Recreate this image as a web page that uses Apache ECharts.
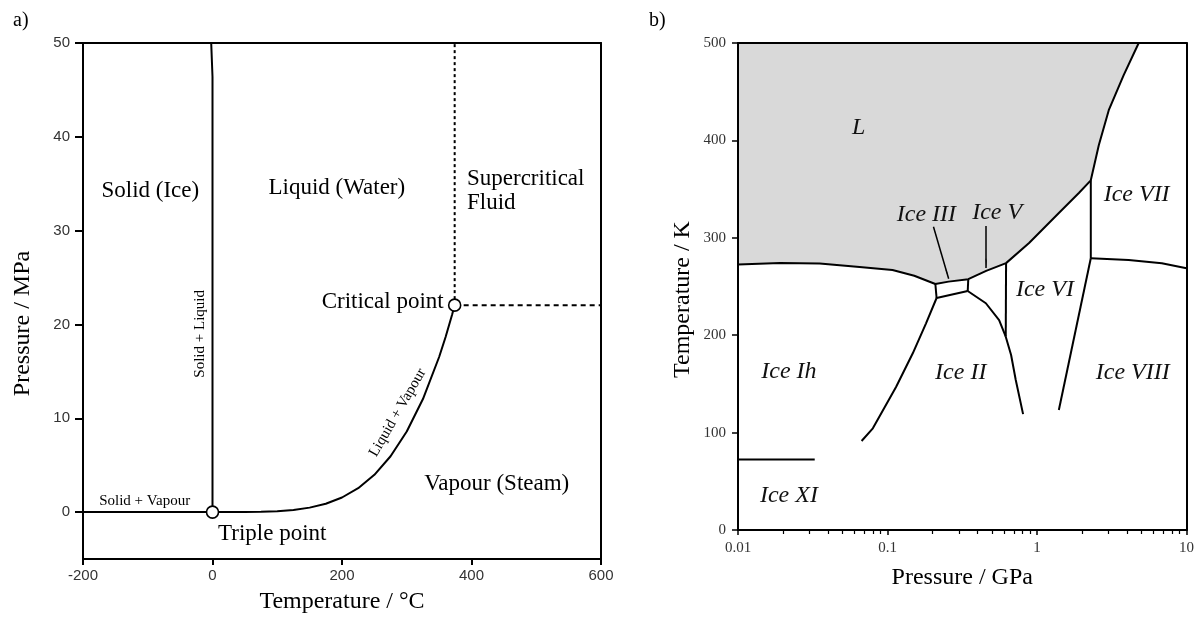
<!DOCTYPE html>
<html>
<head>
<meta charset="utf-8">
<script src="https://cdn.jsdelivr.net/npm/echarts@6/dist/echarts.min.js"></script>
<style>
html,body{margin:0;padding:0;background:#fff;}
#c{width:1197px;height:619px;}
</style>
</head>
<body>
<div id="c"></div>
<script>
// ---------- Panel a: water phase diagram (T in °C, P in MPa) ----------
const aXTicks = [-200, 0, 200, 400, 600];
const aYTicks = [0, 10, 20, 30, 40, 50];
const sublimationLine = [[-200, 0], [0.01, 0.0006]];
const meltingLineA = [[0.01, 0.0006], [0, 46.4], [-2, 46.4], [-2, 50]];
const vapourCurve = [[0.01, 0.0006], [25, 0.0032], [50, 0.0124], [75, 0.0386], [100, 0.1014],
  [125, 0.232], [150, 0.476], [175, 0.892], [200, 1.555], [225, 2.548], [250, 3.976],
  [275, 5.95], [300, 8.588], [325, 12.05], [350, 16.53], [360, 18.67], [370, 21.04], [374, 22.06]];
const criticalVertical = [[374, 22.06], [374, 50]];
const criticalHorizontal = [[374, 22.06], [600, 22.06]];
const specialPoints = [[0.01, 0.0006], [374, 22.06]];
const aLabels = [
  { name: 'Solid (Ice)', value: [-96, 34.2] },
  { name: 'Liquid (Water)', value: [192, 34.6] },
  { name: 'Supercritical\nFluid', value: [393, 34.2], align: 'left' },
  { name: 'Critical point', value: [357, 22.4], align: 'right' },
  { name: 'Triple point', value: [8.5, -2.3], align: 'left' },
  { name: 'Vapour (Steam)', value: [439, 3.0] }
];
const aSmallLabels = [
  { name: 'Solid + Vapour', value: [-175, 1.2], align: 'left', rotate: 0 },
  { name: 'Solid + Liquid', value: [-19, 19.0], align: 'center', rotate: 90 },
  { name: 'Liquid + Vapour', value: [286, 10.6], align: 'center', rotate: 60 }
];

// ---------- Panel b: ice phase diagram (P in GPa, T in K) ----------
const bYTicks = [0, 100, 200, 300, 400, 500];
const bMinorTicks = [0.02, 0.03, 0.04, 0.05, 0.06, 0.07, 0.08, 0.09,
  0.2, 0.3, 0.4, 0.5, 0.6, 0.7, 0.8, 0.9, 2, 3, 4, 5, 6, 7, 8, 9];
const meltingCurveB = [[0.01, 272.5], [0.0191, 274], [0.0352, 273.5], [0.065, 270], [0.108, 267],
  [0.151, 261], [0.209, 252.6], [0.256, 255], [0.347, 257.5], [0.457, 266], [0.621, 274],
  [0.885, 294.7], [1.40, 325.5], [1.905, 346], [2.29, 359], [2.59, 395], [3.02, 431],
  [3.80, 467], [4.79, 500]];
const ihIIIBoundary = [[0.209, 252.6], [0.213, 238.2]];
const iiIIIBoundary = [[0.213, 238.2], [0.344, 245.4]];
const iiiVBoundary = [[0.344, 245.4], [0.347, 257.5]];
const iiVBoundary = [[0.344, 245.4], [0.455, 232.8], [0.558, 215.6], [0.618, 198.5]];
const iiVIBoundary = [[0.618, 198.5], [0.671, 179.7], [0.721, 154], [0.807, 119]];
const vVIBoundary = [[0.621, 274], [0.618, 198.5]];
const ihIIBoundary = [[0.213, 238.2], [0.181, 212.2], [0.1476, 181.4], [0.1143, 147.1], [0.0798, 104.4], [0.0671, 91.4]];
const viVIIBoundary = [[2.29, 359], [2.29, 279]];
const viiVIIIBoundary = [[2.29, 279], [4.10, 277.2], [6.84, 273.8], [10, 268.7]];
const viVIIIBoundary = [[2.29, 279], [1.40, 123.2]];
const ihXIBoundary = [[0.01, 72.5], [0.0326, 72.5]];
const arrowIII = [[0.203, 311.4], [0.2565, 258]];
const arrowV = [[0.457, 312], [0.457, 269]];
const bLabels = [
  { name: 'L', value: [0.0641, 412.7] },
  { name: 'Ice III', value: [0.182, 323.4] },
  { name: 'Ice V', value: [0.541, 325.5] },
  { name: 'Ice VII', value: [4.64, 344] },
  { name: 'Ice VI', value: [1.13, 246.4] },
  { name: 'Ice Ih', value: [0.0219, 162.2] },
  { name: 'Ice II', value: [0.309, 162] },
  { name: 'Ice VIII', value: [4.37, 162] },
  { name: 'Ice XI', value: [0.0219, 35] }
];

const SERIF = 'Liberation Serif';
const SANS = 'Liberation Sans';
const BLACK = '#000';

function boxAxisLine() {
  return { show: true, onZero: false, lineStyle: { color: BLACK, width: 2 } };
}

function lineSeries(data, xi, yi, extra) {
  return Object.assign({
    type: 'line', data: data, xAxisIndex: xi, yAxisIndex: yi,
    symbol: 'none', showSymbol: false, silent: true, animation: false,
    lineStyle: { color: BLACK, width: 2 }, z: 3
  }, extra || {});
}

function labelSeries(items, xi, yi, style) {
  return {
    type: 'scatter', xAxisIndex: xi, yAxisIndex: yi, symbolSize: 0, silent: true, z: 6,
    itemStyle: { opacity: 1 },
    data: items.map(function (d) {
      return {
        name: d.name, value: d.value,
        label: { align: d.align || 'center', rotate: d.rotate || 0 }
      };
    }),
    label: Object.assign({ show: true, position: 'inside', formatter: '{b}', color: '#000' }, style)
  };
}

const chart = echarts.init(document.getElementById('c'), null, { renderer: 'canvas' });

const option = {
  animation: false,
  backgroundColor: '#fff',
  title: [
    { text: 'a)', left: 8, top: 6, textStyle: { fontFamily: SERIF, fontSize: 20, fontWeight: 'normal', color: BLACK } },
    { text: 'b)', left: 644, top: 6, textStyle: { fontFamily: SERIF, fontSize: 20, fontWeight: 'normal', color: BLACK } }
  ],
  grid: [
    { left: 83, top: 43, width: 518, height: 519 },
    { left: 738, top: 43, width: 449, height: 487 }
  ],
  xAxis: [
    {
      type: 'value', gridIndex: 0, min: -200, max: 600, interval: 200, z: 5,
      axisLine: boxAxisLine(),
      axisTick: { show: true, length: 6, lineStyle: { color: BLACK, width: 2 } },
      axisLabel: { fontFamily: SANS, fontSize: 15, color: '#333', margin: 9 },
      splitLine: { show: false },
      name: 'Temperature / °C', nameLocation: 'middle', nameGap: 31,
      nameTextStyle: { fontFamily: SERIF, fontSize: 24, color: BLACK }
    },
    {
      type: 'value', gridIndex: 0, position: 'top', min: -200, max: 600, z: 5,
      axisLine: boxAxisLine(), axisTick: { show: false }, axisLabel: { show: false }, splitLine: { show: false }
    },
    {
      type: 'log', logBase: 10, gridIndex: 1, min: 0.01, max: 10, z: 5,
      axisLine: boxAxisLine(),
      axisTick: { show: true, length: 5, lineStyle: { color: BLACK, width: 1.5 } },
      axisLabel: {
        fontFamily: SERIF, fontSize: 15, color: '#333', margin: 11,
        formatter: function (v) { return String(+(+v).toPrecision(3)); }
      },
      splitLine: { show: false },
      name: 'Pressure / GPa', nameLocation: 'middle', nameGap: 36,
      nameTextStyle: { fontFamily: SERIF, fontSize: 24, color: BLACK }
    },
    {
      type: 'log', logBase: 10, gridIndex: 1, min: 0.01, max: 10, z: 5,
      axisLine: { show: false },
      axisTick: { show: true, inside: true, length: 4, customValues: bMinorTicks, lineStyle: { color: BLACK, width: 1.2 } },
      axisLabel: { show: false }, splitLine: { show: false }
    },
    {
      type: 'log', logBase: 10, gridIndex: 1, position: 'top', min: 0.01, max: 10, z: 5,
      axisLine: boxAxisLine(), axisTick: { show: false }, axisLabel: { show: false }, splitLine: { show: false }
    }
  ],
  yAxis: [
    {
      type: 'value', gridIndex: 0, min: -5, max: 50, z: 5,
      axisLine: boxAxisLine(),
      axisTick: { show: true, length: 8, customValues: aYTicks, lineStyle: { color: BLACK, width: 2 } },
      axisLabel: { fontFamily: SANS, fontSize: 15, color: '#333', margin: 13, customValues: aYTicks },
      splitLine: { show: false },
      name: 'Pressure / MPa', nameLocation: 'middle', nameGap: 48, nameRotate: 90,
      nameTextStyle: { fontFamily: SERIF, fontSize: 24, color: BLACK, padding: [0, 45, 0, 0] }
    },
    {
      type: 'value', gridIndex: 0, position: 'right', min: -5, max: 50, z: 5,
      axisLine: boxAxisLine(), axisTick: { show: false }, axisLabel: { show: false }, splitLine: { show: false }
    },
    {
      type: 'value', gridIndex: 1, min: 0, max: 500, interval: 100, z: 5,
      axisLine: boxAxisLine(),
      axisTick: { show: true, length: 6, lineStyle: { color: BLACK, width: 1.5 } },
      axisLabel: { fontFamily: SERIF, fontSize: 15, color: '#333', margin: 12 },
      splitLine: { show: false },
      name: 'Temperature / K', nameLocation: 'middle', nameGap: 43, nameRotate: 90,
      nameTextStyle: { fontFamily: SERIF, fontSize: 24, color: BLACK, padding: [0, 26, 0, 0] }
    },
    {
      type: 'value', gridIndex: 1, position: 'right', min: 0, max: 500, z: 5,
      axisLine: boxAxisLine(), axisTick: { show: false }, axisLabel: { show: false }, splitLine: { show: false }
    }
  ],
  series: [
    // panel a
    lineSeries(sublimationLine, 0, 0),
    lineSeries(meltingLineA, 0, 0),
    lineSeries(vapourCurve, 0, 0),
    lineSeries(criticalVertical, 0, 0, { lineStyle: { color: BLACK, width: 2, type: [3, 3] } }),
    lineSeries(criticalHorizontal, 0, 0, { lineStyle: { color: BLACK, width: 2, type: [5, 4] } }),
    {
      type: 'scatter', xAxisIndex: 0, yAxisIndex: 0, data: specialPoints, symbol: 'circle', symbolSize: 12,
      silent: true, z: 5, itemStyle: { color: '#fff', opacity: 1, borderColor: BLACK, borderWidth: 1.6 }
    },
    labelSeries(aLabels, 0, 0, { fontFamily: SERIF, fontSize: 23, lineHeight: 24 }),
    labelSeries(aSmallLabels, 0, 0, { fontFamily: SERIF, fontSize: 15 }),
    // panel b
    lineSeries(meltingCurveB, 2, 2, { areaStyle: { color: '#d9d9d9', opacity: 1, origin: 'end' }, z: 2 }),
    lineSeries(ihIIIBoundary, 2, 2),
    lineSeries(iiIIIBoundary, 2, 2),
    lineSeries(iiiVBoundary, 2, 2),
    lineSeries(iiVBoundary, 2, 2),
    lineSeries(iiVIBoundary, 2, 2),
    lineSeries(vVIBoundary, 2, 2),
    lineSeries(ihIIBoundary, 2, 2),
    lineSeries(viVIIBoundary, 2, 2),
    lineSeries(viiVIIIBoundary, 2, 2),
    lineSeries(viVIIIBoundary, 2, 2),
    lineSeries(ihXIBoundary, 2, 2, {
      markLine: {
        silent: true, symbol: ['none', 'arrow'], symbolSize: [1, 10], animation: false,
        label: { show: false },
        lineStyle: { color: BLACK, width: 1.5, type: 'solid' },
        emphasis: { disabled: true },
        data: [
          [{ coord: arrowIII[0] }, { coord: arrowIII[1] }],
          [{ coord: arrowV[0] }, { coord: arrowV[1] }]
        ]
      }
    }),
    labelSeries(bLabels, 2, 2, { fontFamily: SERIF, fontSize: 24, fontStyle: 'italic', color: '#111' })
  ]
};

chart.setOption(option);
</script>
</body>
</html>
